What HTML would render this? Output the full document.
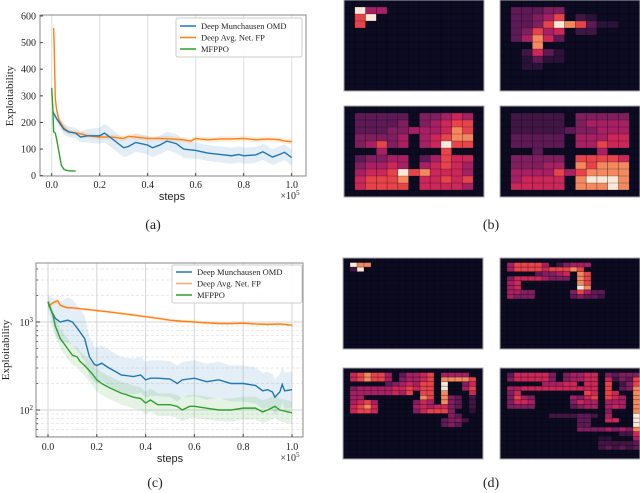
<!DOCTYPE html>
<html><head><meta charset="utf-8">
<style>
html,body{margin:0;padding:0;background:#fff;}
svg{display:block;}
text{font-family:"Liberation Serif",serif;fill:#222;}
</style></head>
<body>
<svg id="fig" width="640" height="493" viewBox="0 0 640 493" xmlns="http://www.w3.org/2000/svg">
  <g id="chartA"></g>
  <g id="chartC"></g>
  <g id="heat"></g>
  <text x="153" y="229" font-size="14" text-anchor="middle">(a)</text>
  <text x="491" y="229" font-size="14" text-anchor="middle">(b)</text>
  <text x="155" y="487" font-size="14" text-anchor="middle">(c)</text>
  <text x="491" y="487" font-size="14" text-anchor="middle">(d)</text>
</svg>
<script>
// ===== Chart (a) data =====
const aBlueX = [0.005,0.02,0.05,0.07,0.1,0.12,0.15,0.2,0.22,0.25,0.3,0.32,0.35,0.4,0.42,0.45,0.48,0.52,0.55,0.6,0.65,0.7,0.75,0.78,0.8,0.85,0.88,0.92,0.95,0.97,1.0];
const aBlueY = [240,215,175,165,160,145,150,150,160,140,105,110,125,115,105,115,130,120,100,95,85,80,75,80,75,78,90,70,80,88,68];
const aBlueS = [15,15,20,20,20,20,25,30,35,35,35,35,35,35,35,35,35,35,35,30,30,30,30,30,30,30,30,30,30,30,30];
const aOrangeX = [0.008,0.01,0.015,0.02,0.03,0.05,0.07,0.1,0.12,0.15,0.2,0.25,0.3,0.32,0.35,0.4,0.45,0.5,0.55,0.58,0.6,0.65,0.7,0.75,0.8,0.85,0.9,0.95,0.97,1.0];
const aOrangeY = [555,500,290,250,210,180,165,160,158,150,145,145,140,148,145,140,140,138,135,130,140,135,138,138,140,135,138,135,130,128];
const aOrangeS = [10,10,15,15,15,15,12,10,10,10,10,10,10,10,10,10,10,10,10,10,10,10,10,10,10,10,10,10,10,10];
const aGreenX = [0.0,0.005,0.008,0.015,0.02,0.03,0.04,0.05,0.06,0.08,0.1];
const aGreenY = [330,250,165,160,140,90,40,25,20,18,18];
const aXTicks = [0,0.2,0.4,0.6,0.8,1.0];
const aXTickLabels = ["0.0","0.2","0.4","0.6","0.8","1.0"];
const aYTicks = [0,100,200,300,400,500,600];

// ===== Chart (c) data =====
const cBlueX = [0,0.01,0.03,0.05,0.08,0.1,0.12,0.15,0.17,0.19,0.2,0.22,0.25,0.28,0.3,0.35,0.38,0.4,0.42,0.45,0.5,0.53,0.55,0.6,0.65,0.7,0.75,0.8,0.85,0.88,0.9,0.92,0.93,0.95,0.96,0.97,1.0];
const cBlueY = [1700,1400,1100,1000,1050,1000,850,650,400,330,320,340,300,270,250,240,250,220,230,230,225,200,220,230,210,220,200,200,190,165,170,160,140,160,195,165,170];
const cBlueS = [1.2,1.4,1.6,1.7,1.8,1.8,1.8,1.8,1.7,1.6,1.6,1.6,1.6,1.6,1.6,1.6,1.6,1.6,1.6,1.6,1.6,1.6,1.6,1.6,1.6,1.6,1.6,1.6,1.6,1.6,1.6,1.6,1.6,1.6,1.6,1.6,1.6];
const cOrangeX = [0,0.02,0.04,0.05,0.08,0.1,0.15,0.2,0.25,0.3,0.35,0.4,0.45,0.5,0.55,0.6,0.65,0.7,0.75,0.8,0.85,0.9,0.95,1.0];
const cOrangeY = [1500,1650,1750,1550,1450,1450,1400,1350,1300,1250,1200,1150,1100,1050,1020,1000,980,960,960,970,950,940,950,920];
const cOrangeS = [1.05,1.05,1.05,1.05,1.04,1.04,1.04,1.04,1.04,1.04,1.04,1.04,1.04,1.04,1.04,1.04,1.04,1.04,1.04,1.04,1.04,1.04,1.04,1.04];
const cGreenX = [0,0.02,0.03,0.05,0.08,0.1,0.12,0.13,0.15,0.18,0.2,0.22,0.25,0.28,0.3,0.32,0.35,0.38,0.4,0.42,0.45,0.5,0.53,0.55,0.58,0.6,0.65,0.7,0.75,0.8,0.85,0.88,0.9,0.93,0.95,1.0];
const cGreenY = [1700,1200,900,650,500,420,400,360,320,260,220,200,180,165,155,150,140,135,120,130,115,115,110,100,110,110,105,100,100,105,105,95,100,110,100,93];
const cGreenS = [1.1,1.2,1.25,1.3,1.3,1.3,1.3,1.3,1.3,1.35,1.35,1.35,1.35,1.35,1.35,1.35,1.35,1.35,1.35,1.35,1.35,1.35,1.35,1.35,1.35,1.35,1.35,1.35,1.35,1.35,1.35,1.35,1.35,1.35,1.35,1.35];

const NS = "http://www.w3.org/2000/svg";
function mk(tag, attrs, parent){ const e=document.createElementNS(NS,tag); for(const k in attrs) e.setAttribute(k,attrs[k]); if(parent) parent.appendChild(e); return e; }
const BLUE="#1f77b4", ORANGE="#ff7f0e", GREEN="#2ca02c";

// ---------- Chart A ----------
(function(){
  const g=document.getElementById('chartA');
  const L=40,R=306,T=15,B=176;
  const sx=v=>51.7+v*240, sy=v=>175.7-v/600*159.7;
  aXTicks.forEach(t=>{ const l=mk('line',{x1:sx(t),x2:sx(t),y1:T,y2:B,stroke:"#dcdcdc","stroke-width":1},g);
      });
  function band(xs,ys,ss,col){ let d=''; xs.forEach((x,i)=>{d+=(i?'L':'M')+sx(x)+','+sy(ys[i]+ss[i]);});
    for(let i=xs.length-1;i>=0;i--) d+='L'+sx(xs[i])+','+sy(Math.max(0,ys[i]-ss[i])); d+='Z';
    const p=mk('path',{d:d,fill:col,"fill-opacity":0.13,stroke:"none"},g);   }
  function line(xs,ys,col,name){ const d=xs.map((x,i)=>(i?'L':'M')+sx(x)+','+sy(ys[i])).join('');
    const p=mk('path',{d:d,fill:"none",stroke:col,"stroke-width":1.4},g);   }
  band(aBlueX,aBlueY,aBlueS,BLUE); band(aOrangeX,aOrangeY,aOrangeS,ORANGE);
  line(aOrangeX,aOrangeY,ORANGE,'series-avg-net-fp');
  line(aBlueX,aBlueY,BLUE,'series-munchausen-omd');
  line(aGreenX,aGreenY,GREEN,'series-mfppo');
  const fr=mk('rect',{x:L,y:T,width:R-L,height:B-T,fill:"none",stroke:"#888","stroke-width":1},g);
   
  aXTicks.forEach((t,i)=>{ mk('line',{x1:sx(t),x2:sx(t),y1:B,y2:B-3,stroke:"#444"},g);
    const tx=mk('text',{x:sx(t),y:188,"font-size":10,"text-anchor":"middle"},g); tx.textContent=aXTickLabels[i];
      });
  aYTicks.forEach(t=>{ mk('line',{x1:L,x2:L+3,y1:sy(t),y2:sy(t),stroke:"#444"},g);
    const tx=mk('text',{x:L-4,y:sy(t)+3.5,"font-size":10,"text-anchor":"end"},g); tx.textContent=String(t);
      });
  const st=mk('text',{x:172,y:200,"font-size":11,"text-anchor":"middle","style":"font-family:'Liberation Sans',sans-serif"},g); st.textContent='steps';
   
  const ex=mk('text',{x:290,y:199,"font-size":10,"text-anchor":"middle"},g); ex.innerHTML='×10<tspan dy="-4" font-size="7">5</tspan>';
   
  const yt=mk('text',{x:0,y:0,"font-size":11,"text-anchor":"middle",transform:"translate(13,96) rotate(-90)"},g); yt.textContent='Exploitability';
   
  const lg=mk('g',{},g);  
  mk('rect',{x:176,y:18,width:126,height:39,rx:2,fill:"#fff","fill-opacity":0.9,stroke:"#ccc"},lg);
  [["Deep Munchausen OMD",BLUE],["Deep Avg. Net. FP",ORANGE],["MFPPO",GREEN]].forEach((e,i)=>{
    const y=26+i*11.5; mk('line',{x1:180,x2:196,y1:y,y2:y,stroke:e[1],"stroke-width":1.5},lg);
    const tx=mk('text',{x:201,y:y+3,"font-size":8.5},lg); tx.textContent=e[0];
      });
})();

// ---------- Chart C ----------
(function(){
  const g=document.getElementById('chartC');
  const L=36,R=303,T=263,B=437;
  const sx=v=>48+v*244, sy=v=>322-(Math.log10(v)-3)*88;
  [20,30,40,50,60,70,80,90,200,300,400,500,600,700,800,900,2000,3000,4000].forEach(v=>{ const y=sy(v); if(y>T&&y<B){
    const l=mk('line',{x1:L,x2:R,y1:y,y2:y,stroke:"#e2e2e2","stroke-width":0.8,"stroke-dasharray":"3,2"},g);
      mk('line',{x1:L,x2:L+2,y1:y,y2:y,stroke:"#666"},g);} });
  [100,1000].forEach(v=>{ const l=mk('line',{x1:L,x2:R,y1:sy(v),y2:sy(v),stroke:"#d6d6d6","stroke-width":1},g);
      });
  aXTicks.forEach(t=>{ const l=mk('line',{x1:sx(t),x2:sx(t),y1:T,y2:B,stroke:"#d6d6d6","stroke-width":1},g);
      });
  function band(xs,ys,ss,col){ let d=''; xs.forEach((x,i)=>{d+=(i?'L':'M')+sx(x)+','+Math.max(T,sy(ys[i]*ss[i]));});
    for(let i=xs.length-1;i>=0;i--) d+='L'+sx(xs[i])+','+Math.min(B,sy(ys[i]/ss[i])); d+='Z';
    const p=mk('path',{d:d,fill:col,"fill-opacity":0.12,stroke:"none"},g);   }
  function line(xs,ys,col,name){ const d=xs.map((x,i)=>(i?'L':'M')+sx(x)+','+sy(ys[i])).join('');
    const p=mk('path',{d:d,fill:"none",stroke:col,"stroke-width":1.4},g);   }
  band(cBlueX,cBlueY,cBlueS,BLUE); band(cGreenX,cGreenY,cGreenS,GREEN); band(cOrangeX,cOrangeY,cOrangeS,ORANGE);
  line(cOrangeX,cOrangeY,ORANGE,'series-avg-net-fp');
  line(cBlueX,cBlueY,BLUE,'series-munchausen-omd');
  line(cGreenX,cGreenY,GREEN,'series-mfppo');
  const fr=mk('rect',{x:L,y:T,width:R-L,height:B-T,fill:"none",stroke:"#888","stroke-width":1},g);
   
  aXTicks.forEach((t,i)=>{ mk('line',{x1:sx(t),x2:sx(t),y1:B,y2:B-3,stroke:"#444"},g);
    const tx=mk('text',{x:sx(t),y:450,"font-size":10,"text-anchor":"middle"},g); tx.textContent=aXTickLabels[i];
      });
  [[100,"2"],[1000,"3"]].forEach(e=>{ mk('line',{x1:L,x2:L+4,y1:sy(e[0]),y2:sy(e[0]),stroke:"#444"},g);
    const tx=mk('text',{x:L-3,y:sy(e[0])+4,"font-size":10,"text-anchor":"end"},g); tx.innerHTML='10<tspan dy="-4" font-size="7">'+e[1]+'</tspan>';
      });
  const st=mk('text',{x:170,y:462,"font-size":11,"text-anchor":"middle","style":"font-family:'Liberation Sans',sans-serif"},g); st.textContent='steps';
   
  const ex=mk('text',{x:290,y:461,"font-size":10,"text-anchor":"middle"},g); ex.innerHTML='×10<tspan dy="-4" font-size="7">5</tspan>';
   
  const yt=mk('text',{x:0,y:0,"font-size":11,"text-anchor":"middle",transform:"translate(9,350) rotate(-90)"},g); yt.textContent='Exploitability';
   
  const lg=mk('g',{},g);  
  mk('rect',{x:172,y:265,width:130,height:38,rx:2,fill:"#fff","fill-opacity":0.9,stroke:"#ccc"},lg);
  [["Deep Munchausen OMD",BLUE],["Deep Avg. Net. FP","#ffab66"],["MFPPO",GREEN]].forEach((e,i)=>{
    const y=272+i*11.5; mk('line',{x1:176,x2:192,y1:y,y2:y,stroke:e[1],"stroke-width":1.5},lg);
    const tx=mk('text',{x:197,y:y+3,"font-size":8.5},lg); tx.textContent=e[0];
      });
})();

// ---------- Heatmaps ----------
const heatB1 = ["0000000000000","0955000000000","0790000000000","0700000000000"];
const heatB2 = ["0000000000000","0333440000000","0334570210000","0334798731100","0347560220000","0358630000000","0008000000000","0026310000000","0013110000000","0011000000000"];
const heatB3 = ["0000000000000","0333330445650","0333340456770","0333445556870","0444450567880","0457450569770","0005000007000","0344550357660","0455650567650","0566797866650","0677780667670","0677770666650"];
const heatB4 = ["0000000000000","0222220444440","0222220455550","0222223445550","0333330555660","0333330557660","0003000005000","0444440777760","0444550878880","0555575788880","0566660899980","0666660888980"];
const heatD1 = ["00000000000000000000","09880000000000000000","02900000000000000000"];
const heatD2 = ["00000000000000000000","05777750245550000000","05777767778700000000","00000344560870000000","04666654440870000000","05600000000870000000","05600000000980000000","05544000004753300000","05444000003433200000"];
const heatD3 = ["00000000000000000000","06787750355670555500","06787750455670888870","00000034565770900460","04555556676770900570","05555556570770800060","05500000000870843020","05675000004650843020","06786000005656643020","06776000004677740010","00000000000000043000","00000000000000344200","00000000000000343000"];
const heatD4 = ["00000000000000000000","03666664045566043444","04666664045566062437","00000055566066070247","05566666666666070348","04600000000076076008","04754000005467076508","04665000004655055508","04444000003455056508","00000000000000040008","00000002222332050009","00000000000330066009","00000000000330000009","00000000000444454548","00000000000000000226","00000000000000110005","00000000000000222223","00000000000000232323"];
const PAL = ["#0c0b22","#2b1238","#421644","#5e1a56","#801f5f","#a72063","#cc2759","#e7434a","#f4895f","#fbe8d8"];
(function(){
  const g=document.getElementById('heat');
  const panels=[[heatB1,13,344,0,'heatmap-b1'],[heatB2,13,500,0,'heatmap-b2'],[heatB3,13,344,106,'heatmap-b3'],[heatB4,13,500,106,'heatmap-b4'],
                [heatD1,20,343,258,'heatmap-d1'],[heatD2,20,500,258,'heatmap-d2'],[heatD3,20,343,368,'heatmap-d3'],[heatD4,20,500,368,'heatmap-d4']];
  panels.forEach(p=>{
    const [data,n,x0,y0,name]=p; const W=140,H=91, cw=W/n, ch=H/n;
    const pg=mk('g',{},g);  
    mk('rect',{x:x0,y:y0,width:W,height:H,fill:PAL[0]},pg);
    for(let r=0;r<n;r++) for(let c=0;c<n;c++){
      const row=data[r]; const v=row?+row[c]:0;
      if(v>0){ const cell=mk('rect',{x:x0+c*cw,y:y0+r*ch,width:cw,height:ch,fill:PAL[v]},pg);
          }
    }
    for(let c=1;c<n;c++) mk('line',{x1:x0+c*cw,x2:x0+c*cw,y1:y0,y2:y0+H,stroke:"#000","stroke-opacity":0.45,"stroke-width":0.6},pg);
    for(let r=1;r<n;r++) mk('line',{x1:x0,x2:x0+W,y1:y0+r*ch,y2:y0+r*ch,stroke:"#000","stroke-opacity":0.45,"stroke-width":0.6},pg);
    mk('rect',{x:x0,y:y0,width:W,height:H,fill:"none",stroke:"#aaa","stroke-width":1},pg);
  });
})();
</script>
</body></html>
